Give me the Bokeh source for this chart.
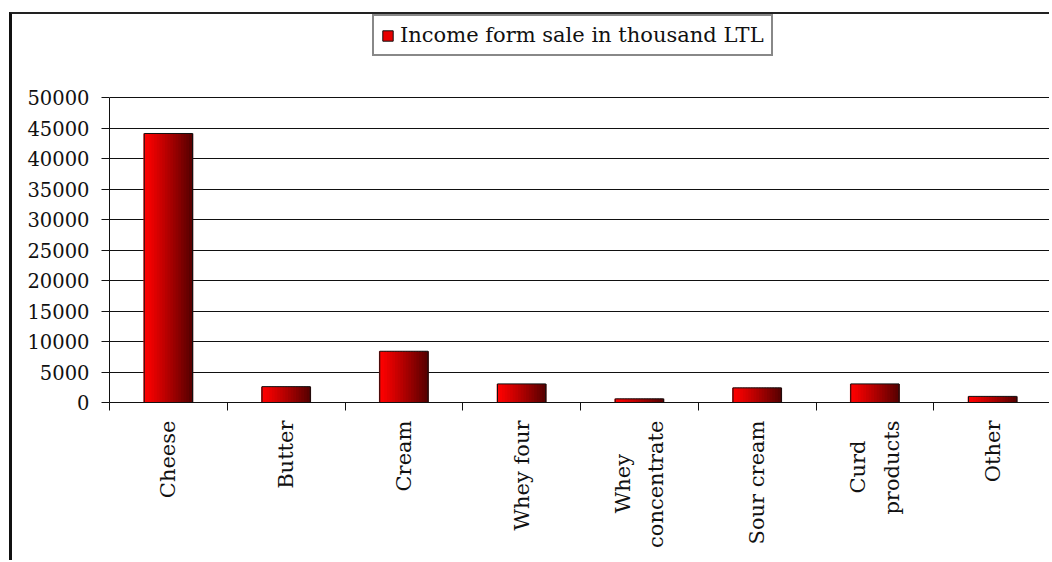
import math
from bokeh.plotting import figure
from bokeh.models import (ColumnDataSource, FixedTicker, Legend, LegendItem)
from bokeh.transform import dodge
from bokeh.embed import file_html
from bokeh.resources import INLINE

NB = "\u00a0"
categories = ["Cheese", "Butter", "Cream", "Whey four",
              "Whey" + NB * 5 + "\nconcentrate",
              "Sour cream", "Curd" + NB * 3 + "\nproducts", "Other"]
income = [44100, 2600, 8400, 3050, 600, 2400, 3050, 1000]
y_ticks = [0, 5000, 10000, 15000, 20000, 25000, 30000, 35000, 40000, 45000, 50000]
series_name = "Income form sale in thousand LTL"

FONT = "DejaVu Serif"
x_pos = [i + 0.5 for i in range(len(categories))]
src = ColumnDataSource(dict(x=x_pos, top=income))

# frame spans page y 14..402; the 0..50000 axis occupies the lowest 305 px
FRAME_H = 388
AXIS_H = 305
y_top = y_ticks[-1] * FRAME_H / AXIS_H

p = figure(width=1040, height=548, x_range=(0, len(categories)), y_range=(0, y_top),
           output_backend="svg", toolbar_location=None,
           min_border_left=97, min_border_right=1, min_border_top=0, min_border_bottom=160)
p.styles = {"border-top": "2px solid #222", "border-left": "3px solid #111",
            "margin-top": "12px", "margin-left": "9px"}
p.outline_line_color = None
p.background_fill_color = "white"
p.border_fill_color = "white"

# gradient bars built from slices
BW = 0.41
N = 18
def lerp(a, b, t):
    return int(round(a + (b - a) * t))
slice_renderers = []
for k in range(N):
    t = k / (N - 1)
    col = "#%02x%02x%02x" % (lerp(255, 92, t ** 1.1), 0, 0)
    off = -BW / 2 + (k + 0.5) * BW / N
    r = p.vbar(x=dodge("x", off), top="top", bottom=0, width=BW / N * 1.6, source=src,
               fill_color=col, line_color=None)
    slice_renderers.append(r)
outline = p.vbar(x="x", top="top", bottom=0, width=BW, source=src,
                 fill_alpha=0, line_color="#111111", line_width=1)

# axes
p.yaxis.ticker = FixedTicker(ticks=y_ticks)
p.yaxis.bounds = (y_ticks[0], y_ticks[-1])
p.yaxis.major_label_text_font = FONT
p.yaxis.major_label_text_font_size = "19.5px"
p.yaxis.major_label_text_color = "#111111"
p.yaxis.major_tick_out = 8
p.yaxis.major_tick_in = 0
p.yaxis.minor_tick_line_color = None
p.yaxis.major_label_standoff = 12
p.yaxis.axis_line_color = "#111111"
p.yaxis.major_tick_line_color = "#111111"

p.xaxis.ticker = FixedTicker(ticks=x_pos, minor_ticks=list(range(len(categories) + 1)))
p.xaxis.major_label_overrides = {x: c for x, c in zip(x_pos, categories)}
p.xaxis.major_label_orientation = math.pi / 2
p.xaxis.major_label_text_font = FONT
p.xaxis.major_label_text_font_size = "21px"
p.xaxis.major_label_text_color = "#111111"
p.xaxis.major_label_text_line_height = 1.4
p.xaxis.major_tick_line_color = None
p.xaxis.major_tick_out = 0
p.xaxis.major_tick_in = 0
p.xaxis.minor_tick_out = 8
p.xaxis.minor_tick_in = 0
p.xaxis.minor_tick_line_color = "#111111"
p.xaxis.major_label_standoff = 10
p.xaxis.axis_line_color = "#111111"

p.xgrid.grid_line_color = None
p.ygrid.ticker = FixedTicker(ticks=y_ticks)
p.ygrid.grid_line_color = "#111111"
p.ygrid.grid_line_width = 1

legend = Legend(items=[LegendItem(label=series_name,
                                  renderers=[slice_renderers[3], outline])],
                location=(263, 346), orientation="horizontal")
legend.label_text_font = FONT
legend.label_text_font_size = "21px"
legend.label_text_color = "#111111"
legend.border_line_color = "#111111"
legend.border_line_width = 2
legend.glyph_width = 13
legend.glyph_height = 13
legend.label_standoff = 6
legend.padding = 7
legend.margin = 0
legend.background_fill_alpha = 1
p.add_layout(legend, "center")

open("out.html", "w").write(file_html(p, INLINE))
